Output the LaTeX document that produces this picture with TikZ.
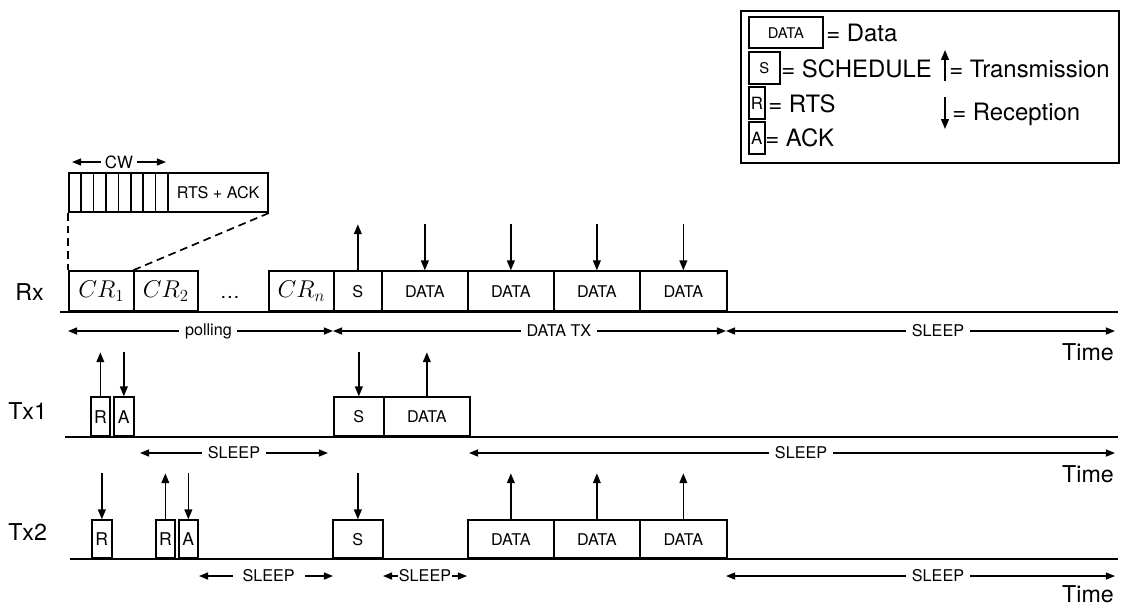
\documentclass[tikz,border=0pt]{standalone}
\usepackage{fontspec}
\setmainfont{TeX Gyre Heros}
\usetikzlibrary{arrows.meta, calc, positioning}
\newcommand{\pxu}{0.025cm}
\newcommand{\fs}[1]{\fontsize{#1}{#1}\selectfont}
\tikzset{
  slot/.style={draw, line width=1.2pt, inner sep=0pt, anchor=south west, font=\fs{11.5}},
  timeline/.style={line width=1.6pt},
  sig/.style={line width=1.1pt, -{Triangle[length=7pt, width=5.5pt]}},
  phase/.style={line width=1.1pt,
    {Triangle[length=6.5pt, width=5pt]}-{Triangle[length=6.5pt, width=5pt]}},
  gap/.style={fill=white, inner xsep=4pt, inner ysep=1pt, font=\fs{11.5}},
  lane/.style={anchor=base west, inner sep=0pt, font=\fs{16.5}},
  timel/.style={anchor=base east, inner sep=0pt, font=\fs{16.5}},
  keytext/.style={anchor=base west, inner sep=0pt, font=\fs{17}},
  zoomline/.style={line width=1.2pt, dash pattern=on 5.5pt off 3.5pt}
}
% box: [height] name, x, y-bottom, width, text
\newcommand{\slot}[6][39]{%
  \node[slot, minimum width=#5*\pxu, minimum height=#1*\pxu] (#2) at (#3,#4) {#6};}
% arrows on top of a box
\newcommand{\txup}[2]{%
  \path (#1.north) ++(0,-#2) coordinate (#1-t);
  \draw[sig] (#1.north) -- (#1-t);}
\newcommand{\rxdown}[2]{%
  \path (#1.north) ++(0,-#2) coordinate (#1-t);
  \draw[sig] (#1-t) -- (#1.north);}
% phase arrow: [node opts] name, x1, x2, y, label
\newcommand{\phase}[6][pos=0.5]{%
  \coordinate (#2-l) at (#3,#5);
  \coordinate (#2-r) at (#4,#5);
  \draw[phase] (#2-l) -- (#2-r) node[gap, #1] (#2) {#6};}

\begin{document}
\begin{tikzpicture}[x=0.025cm, y=-0.025cm]
  \useasboundingbox (0,0) rectangle (1122,608);

  % legend
  \node[draw, line width=1.3pt, anchor=north west, minimum width=378*\pxu,
        minimum height=152*\pxu] (legend) at (740,10) {};
  \slot[31]{kdata}{748}{49}{74}{\fs{10.5}DATA}
  \slot[32]{ks}{748}{85}{31}{\fs{10.5}S}
  \slot[32]{kr}{748}{120}{16}{\fs{12}R}
  \slot[32]{ka}{748}{155}{16}{\fs{12}A}
  \node[keytext] (kdatat) at (826,41) {= Data};
  \node[keytext] (kst) at (781,77) {= SCHEDULE};
  \node[keytext] (krt) at (768,112) {= RTS};
  \node[keytext] (kat) at (765,146) {= ACK};
  \coordinate (kup0) at (945,81);
  \coordinate (kup1) at (945,50);
  \coordinate (kdn0) at (945,97);
  \coordinate (kdn1) at (945,129);
  \draw[sig] (kup0) -- (kup1);
  \draw[sig] (kdn0) -- (kdn1);
  \node[keytext] (ktx) at (949,77) {= Transmission};
  \node[keytext] (krx) at (952,120) {= Reception};

  % contention window
  \foreach \i in {0,...,7} {
    \node[slot, minimum width=12.4*\pxu, minimum height=39*\pxu] (cw\i) at ({68+12.4*\i},213) {};
  }
  \slot{rtsack}{167.2}{213}{100}{RTS + ACK}
  \phase[pos=0.5, inner xsep=3pt, font=\fs{12}]{cw}{72}{166}{162}{CW}

  % Rx
  \node[lane] (rxl) at (15,300) {Rx};
  \coordinate (rx0) at (60,312);
  \coordinate (rx1) at (1118,312);
  \draw[timeline] (rx0) -- (rx1);
  \slot[40]{cr1}{68}{312}{65}{\fs{17}$CR_1$}
  \slot[40]{cr2}{133}{312}{64}{\fs{17}$CR_2$}
  \node (dots) at (230,297) {\fs{14}\dots};
  \slot[40]{crn}{268}{312}{65}{\fs{17}$CR_n$}
  \slot[40]{rs}{333}{312}{48}{S}
  \slot[40]{rd1}{381}{312}{86}{DATA}
  \slot[40]{rd2}{467}{312}{86}{DATA}
  \slot[40]{rd3}{553}{312}{86}{DATA}
  \slot[40]{rd4}{639}{312}{87}{DATA}
  \draw[zoomline] (cw0.south west) -- (cr1.north west);
  \draw[zoomline] (rtsack.south east) -- (cr2.north west);
  \txup{rs}{46}
  \foreach \n in {rd1,rd2,rd3,rd4} { \rxdown{\n}{46} }
  \phase[pos=0.53]{poll}{68}{333}{331}{polling}
  \phase[pos=0.575]{dtx}{333}{726}{331}{DATA TX}
  \phase[pos=0.545]{rsl}{726}{1115}{331}{SLEEP}
  \node[timel] (time1) at (1114,360) {Time};

  % Tx1
  \node[lane] (tx1l) at (8,419) {Tx1};
  \coordinate (t10) at (65,437);
  \coordinate (t11) at (1118,437);
  \draw[timeline] (t10) -- (t11);
  \slot{t1r}{90}{437}{19}{\fs{12.5}R}
  \slot{t1a}{113}{437}{20}{\fs{12.5}A}
  \slot{t1s}{333}{437}{50}{S}
  \slot{t1d}{383}{437}{86}{DATA}
  \txup{t1r}{44}
  \rxdown{t1a}{44}
  \rxdown{t1s}{44}
  \txup{t1d}{44}
  \phase{s11}{140}{328}{453}{SLEEP}
  \phase[pos=0.514]{s12}{469}{1115}{453}{SLEEP}
  \node[timel] (time2) at (1114,482) {Time};

  % Tx2
  \node[lane] (tx2l) at (8,540) {Tx2};
  \coordinate (t20) at (70,559);
  \coordinate (t21) at (1118,559);
  \draw[timeline] (t20) -- (t21);
  \slot[38]{t2r1}{91}{559}{20}{\fs{12.5}R}
  \slot[38]{t2r2}{155}{559}{19}{\fs{12.5}R}
  \slot[38]{t2a}{178}{559}{19}{\fs{12.5}A}
  \slot[38]{t2s}{332}{559}{50}{S}
  \slot[38]{t2d1}{467}{559}{86}{DATA}
  \slot[38]{t2d2}{553}{559}{86}{DATA}
  \slot[38]{t2d3}{639}{559}{87}{DATA}
  \rxdown{t2r1}{46}
  \txup{t2r2}{46}
  \rxdown{t2a}{46}
  \rxdown{t2s}{46}
  \foreach \n in {t2d1,t2d2,t2d3} { \txup{\n}{46} }
  \phase[pos=0.52, inner xsep=7pt]{s21}{199}{333}{576}{SLEEP}
  \phase[pos=0.5, inner xsep=0.5pt]{s22}{383}{467}{576}{SLEEP}
  \phase[pos=0.545]{s23}{726}{1115}{576}{SLEEP}
  \node[timel] (time3) at (1114,602) {Time};
\end{tikzpicture}
\end{document}
